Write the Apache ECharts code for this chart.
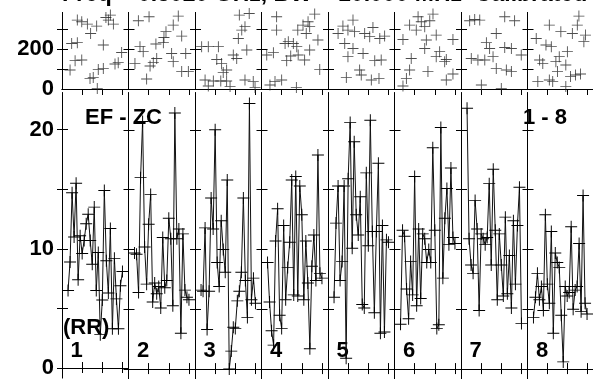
<!DOCTYPE html>
<html>
<head>
<meta charset="utf-8">
<script src="https://cdn.jsdelivr.net/npm/echarts@6/dist/echarts.min.js"></script>
<style>
  html, body { margin: 0; padding: 0; background: #fff; }
  #chart { width: 593px; height: 379px; }
</style>
</head>
<body>
<div id="chart"></div>
<script>
// --- data ---
const titleText = "Freq = 0.5020 GHz, BW = 10.000 MHz  Calibrated";
const panelNames = ["1", "2", "3", "4", "5", "6", "7", "8"];

// sample position inside each panel (x axis runs 0..33)
const sampleX = [3, 4, 5, 6, 7, 8, 9, 10, 11, 12, 13, 14, 15, 16, 17, 18, 19, 20, 21, 22, 23, 24, 25, 26, 27, 28, 29, 30];

// lower plot (RR), one list per panel
const rr1 = [6.5, 8.9, 14.7, 11.0, 15.5, 7.4, 11.1, 9.6, 10.7, 12.1, 12.9, 10.7, 8.7, 13.5, 6.5, 9.7, 2.8, 5.7, 14.9, 9.0, 6.3, 11.7, 3.3, 9.2, 5.8, 3.3, 6.9, 8.1];
const rr2 = [9.7, 9.6, 6.4, 16.0, 20.7, 10.2, 7.1, 12.1, 14.6, 5.6, 7.2, 6.3, 6.9, 5.1, 11.0, 6.8, 7.4, 12.6, 10.9, 5.3, 21.4, 10.9, 11.7, 3.0, 11.3, 6.6, 6.0, 5.8];
const rr3 = [6.6, 6.5, 11.8, 3.3, 6.5, 14.3, 11.7, 20.0, 8.9, 6.9, 12.4, 10.0, 8.1, 15.8, 0.0, 1.5, 3.5, 3.4, 5.7, 6.5, 8.1, 14.3, 7.4, 4.3, 22.2, 5.8, 7.6, 5.5];
const rr4 = [8.9, 5.6, 3.2, 2.0, 10.7, 13.4, 4.5, 3.4, 12.0, 5.8, 8.5, 10.6, 15.8, 6.2, 16.1, 6.1, 15.3, 12.9, 5.8, 10.7, 7.2, 1.7, 8.6, 11.2, 7.4, 17.9, 8.0, 7.6];
const rr5 = [6.0, 12.2, 15.3, 7.4, 9.0, 15.3, 0.9, 15.9, 20.6, 10.1, 19.0, 12.9, 11.2, 14.4, 5.4, 5.1, 16.4, 10.3, 20.8, 11.5, 4.7, 11.5, 17.2, 3.0, 12.0, 3.1, 10.8, 10.6];
const rr6 = [3.75, 11.6, 11.1, 6.7, 4.2, 9.0, 6.2, 16.1, 5.3, 11.7, 5.9, 11.3, 10.9, 8.9, 10.0, 8.9, 18.5, 11.6, 3.4, 3.7, 20.2, 7.6, 12.6, 15.1, 10.4, 16.8, 11.0, 10.5];
const rr7 = [21.8, 10.9, 8.7, 8.0, 14.1, 11.7, 4.9, 11.3, 10.9, 10.4, 11.0, 15.5, 8.7, 16.7, 11.6, 5.8, 11.3, 8.7, 6.1, 12.7, 6.3, 9.5, 5.1, 12.4, 7.1, 12.0, 15.2, 3.8];
const rr8 = [4.3, 6.0, 8.0, 5.8, 6.9, 4.9, 12.9, 7.1, 5.5, 11.5, 3.0, 9.7, 8.9, 8.5, 4.5, 0.6, 6.9, 6.1, 6.4, 11.9, 5.0, 6.6, 6.9, 10.5, 4.8, 14.5, 5.5, 4.6];
const rrPanels = [rr1, rr2, rr3, rr4, rr5, rr6, rr7, rr8];

// upper strip, scattered [x, value] per panel
const top1 = [[7.6,345],[9.8,337],[12.6,325],[17.2,315],[14.2,278],[23.0,345],[25.5,325],[21.8,358],[24.0,370],[4.8,228],[7.6,232],[20.5,220],[29.6,183],[6.5,142],[9.8,145],[4.0,95],[27.9,132],[26.3,125],[20.5,103],[18.0,98],[15.5,58],[13.9,53],[17.5,3]];
const top2 = [[4.9,342],[10.2,362],[24.7,365],[22.2,320],[18.6,287],[17.6,258],[26.4,265],[17.3,232],[13.6,225],[5.7,212],[7.3,187],[21.4,178],[28.4,178],[22.2,137],[14.0,153],[12.3,132],[3.2,128],[10.7,115],[26.4,87],[29.7,87],[9.0,50]];
const top3 = [[22.0,370],[26.9,378],[24.8,312],[23.2,295],[21.5,253],[3.3,212],[6.6,212],[11.6,212],[25.7,195],[19.0,170],[10.8,148],[20.7,153],[13.2,128],[15.7,95],[14.0,82],[5.0,45],[9.1,40],[12.8,40],[15.7,40],[24.8,45],[28.9,37],[6.6,15],[17.4,12],[29.8,8]];
const top4 = [[7.5,362],[7.5,295],[18.0,295],[13.3,237],[15.8,228],[11.7,228],[17.5,212],[5.9,182],[2.6,170],[12.5,142],[14.5,165],[10.0,45],[6.7,37],[4.2,20],[26.4,375],[23.1,337],[20.6,320],[23.9,312],[22.2,278],[28.0,245],[23.9,195],[18.2,170],[21.4,145],[28.9,98],[17.3,8]];
const top5 = [[12.4,345],[7.4,315],[5.0,278],[9.9,295],[13.2,287],[22.3,308],[18.2,278],[20.7,262],[25.7,253],[28.1,265],[8.3,228],[12.4,203],[17.4,178],[9.9,162],[23.2,142],[26.4,145],[15.7,95],[16.5,70],[9.1,58],[21.5,45],[25.3,53]];
const top6 = [[11.7,362],[19.1,375],[17.5,342],[13.3,337],[7.5,320],[10.8,295],[15.0,312],[20.7,270],[15.8,245],[4.2,248],[29.0,248],[15.0,203],[22.4,187],[25.7,148],[20.7,162],[8.3,153],[7.5,95],[24.9,137],[29.0,75],[25.7,45],[16.6,87],[4.2,15],[5.9,53]];
const top7 = [[4.3,342],[6.8,348],[9.3,345],[21.7,362],[26.6,342],[17.5,278],[12.6,232],[14.2,203],[21.7,208],[25.0,203],[29.9,170],[5.1,153],[8.4,145],[11.8,145],[15.9,162],[17.5,103],[22.5,95],[25.0,87],[10.1,20],[20.0,3]];
const top8 = [[25.9,365],[25.1,320],[11.0,320],[16.8,287],[22.6,278],[29.2,270],[28.4,237],[4.4,253],[9.3,220],[12.0,212],[20.1,187],[16.0,162],[6.1,145],[7.7,128],[14.3,137],[19.3,120],[15.1,87],[24.2,70],[26.7,75],[21.7,62],[5.2,37],[11.0,45],[12.7,37],[19.3,12]];
const topPanels = [top1, top2, top3, top4, top5, top6, top7, top8];

const xTicks = [10, 20, 30];
const topTicks = [100, 200, 300];
const topLabels = [0, 200];
const rrTicks = [0, 5, 10, 15, 20];
const rrLabels = [0, 10, 20];

// --- layout ---
const LEFT = 62, PW = 66.5;
const rows = [
  { top: 12.5, height: 76.5, min: 0, max: 383, ticks: topTicks, labels: topLabels, bottomTicks: false },
  { top: 92.7, height: 287.3, min: -0.83, max: 23.1, ticks: rrTicks, labels: rrLabels, bottomTicks: true }
];
const FONT = "'Liberation Sans', Arial, sans-serif";
const plus = "path://M0,9.2H20V10.8H0Z M9.2,0H10.8V20H9.2Z";
const ink = "#000";

const grid = [], xAxis = [], yAxis = [], series = [];

rows.forEach((row, r) => {
  for (let p = 0; p < 8; p++) {
    const g = r * 8 + p;
    grid.push({ left: LEFT + PW * p, width: PW, top: row.top, height: row.height });

    const xBase = {
      type: "value", gridIndex: g, min: 0, max: 33,
      axisLine: { show: true, lineStyle: { color: ink, width: 1 } },
      axisLabel: { show: false },
      splitLine: { show: false }
    };
    xAxis.push(Object.assign({}, xBase, {
      position: "bottom",
      axisTick: { show: row.bottomTicks, inside: true, length: 6, customValues: xTicks, lineStyle: { color: ink } }
    }));
    xAxis.push(Object.assign({}, xBase, {
      position: "top",
      axisTick: { show: true, inside: true, length: r === 0 ? 6 : 5, customValues: xTicks, lineStyle: { color: ink } }
    }));

    const yBase = {
      type: "value", gridIndex: g, min: row.min, max: row.max,
      axisLine: { show: true, lineStyle: { color: ink, width: 1 } },
      splitLine: { show: false }
    };
    yAxis.push(Object.assign({}, yBase, {
      position: "left",
      axisTick: { show: true, inside: true, length: 6, customValues: row.ticks, lineStyle: { color: ink } },
      axisLabel: {
        show: p === 0, customValues: row.labels, margin: 8,
        fontFamily: FONT, fontWeight: "bold", fontSize: 22, color: ink
      }
    }));
    yAxis.push(Object.assign({}, yBase, {
      position: "right",
      axisTick: { show: true, inside: true, length: 5, customValues: row.ticks, lineStyle: { color: ink } },
      axisLabel: { show: false }
    }));

    if (r === 0) {
      series.push({
        type: "scatter", xAxisIndex: 2 * g, yAxisIndex: 2 * g,
        data: topPanels[p], symbol: plus, symbolSize: 11,
        itemStyle: { color: "#222" }, silent: true
      });
    } else {
      series.push({
        type: "line", xAxisIndex: 2 * g, yAxisIndex: 2 * g,
        data: sampleX.map((x, i) => [x, rrPanels[p][i]]),
        symbol: plus, symbolSize: 12, showSymbol: true, showAllSymbol: true,
        lineStyle: { color: "#111", width: 1 },
        itemStyle: { color: ink }, silent: true
      });
    }
  }
});

function label(text, x, y, size) {
  return {
    type: "text", x: x, y: y, silent: true,
    style: {
      text: text, fill: ink, font: "bold " + size + "px " + FONT,
      textAlign: "left", textVerticalAlign: "middle", align: "left", verticalAlign: "middle"
    }
  };
}

const graphic = [
  label(titleText, 62, -5, 23),
  label("EF - ZC", 85, 118, 22),
  label("1 - 8", 523, 118, 22),
  label("(RR)", 63, 328, 22)
];
panelNames.forEach((name, p) => graphic.push(label(name, LEFT + PW * p + 8.5, 351, 22)));

const chart = echarts.init(document.getElementById("chart"), null, { renderer: "canvas" });
chart.setOption({
  animation: false,
  backgroundColor: "#fff",
  grid: grid,
  xAxis: xAxis,
  yAxis: yAxis,
  series: series,
  graphic: graphic
});
</script>
</body>
</html>
